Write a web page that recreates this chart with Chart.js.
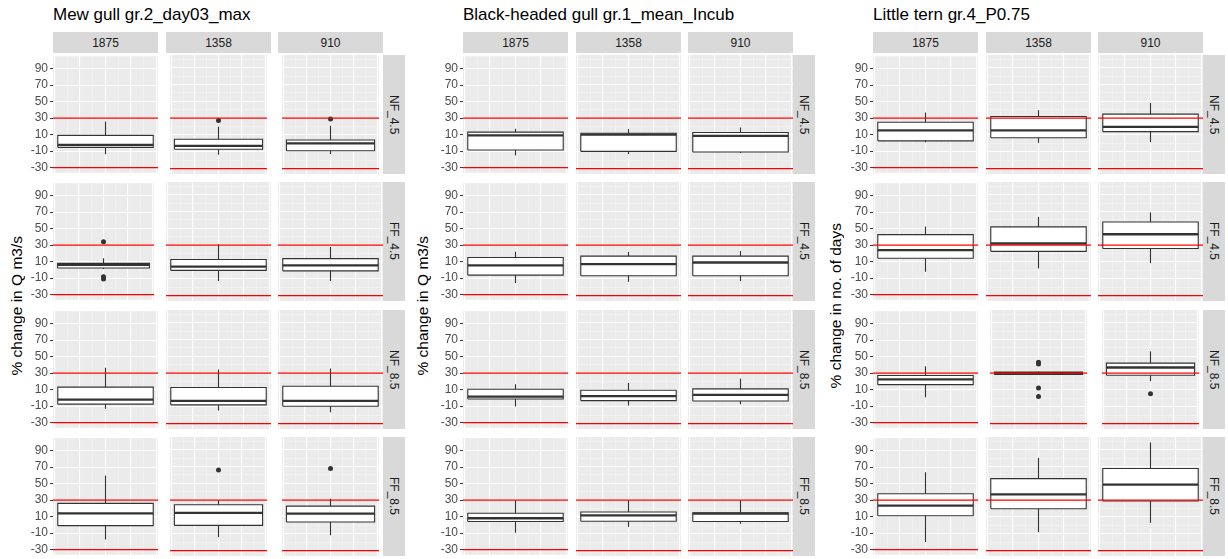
<!DOCTYPE html>
<html lang="en">
<head>
<meta charset="UTF-8">
<title>% change boxplots</title>
<script src="https://cdn.jsdelivr.net/npm/chart.js"></script>
<style>
  body { margin: 0; width: 1228px; height: 559px; background: #fff; position: relative; overflow: hidden;
         font-family: "Liberation Sans", Arial, sans-serif; }
  .title { position: absolute; top: 5px; font-size: 17px; line-height: 20px; color: #000; white-space: nowrap; }
  .strip-top { position: absolute; top: 32px; height: 21px; line-height: 22px; background: #D9D9D9;
               color: #1A1A1A; font-size: 12px; text-align: center; }
  .strip-right { position: absolute; width: 22px; background: #D9D9D9; color: #1A1A1A; font-size: 12px;
                 display: flex; align-items: center; justify-content: center; }
  .strip-right span { writing-mode: vertical-rl; }
  .ytitle { position: absolute; width: 20px; top: 55px; height: 501px; font-size: 15.5px; color: #000;
            display: flex; align-items: center; justify-content: center; }
  .ytitle span { writing-mode: vertical-rl; transform: rotate(180deg); white-space: nowrap; }
  canvas { position: absolute; }
</style>
</head>
<body>
<script>
const panelTitles = ['Mew gull gr.2_day03_max', 'Black-headed gull gr.1_mean_Incub', 'Little tern gr.4_P0.75'];
const yTitles = ['% change in Q m3/s', '% change in Q m3/s', '% change in no. of days'];
const flows = ['1875', '1358', '910'];
const scenarios = ['NF_4.5', 'FF_4.5', 'NF_8.5', 'FF_8.5'];
const yTicks = [-30, -20, -10, 0, 10, 20, 30, 40, 50, 60, 70, 80, 90, 100];
const yLabelled = [-30, -10, 10, 30, 50, 70, 90];
const xTicks = [-0.4, -0.3, -0.2, -0.1, 0, 0.1, 0.2, 0.3, 0.4];
const limitLines = [-30, 30];

// [low whisker, q1, median, q3, high whisker]; rows = scenarios, columns = flows
const mewStats = [
  [[-14, -5.5, -2.4, 9, 26], [-13.5, -7, -3, 5, 20], [-12.6, -8.7, 0, 4, 21]],
  [[1, 2.3, 6, 7.8, 14], [-12.7, 0, 4.6, 13, 31], [-12.7, -0.5, 6, 14, 28]],
  [[-13.3, -7.7, -2.2, 13, 36.4], [-14.5, -7.7, -3, 13, 34.4], [-16.5, -9.3, -3, 14.5, 35.6]],
  [[-17.7, -1, 14, 26, 60], [-14, 0, 15, 24.6, 30], [-11.7, 4, 14, 23, 31.8]]
];
const mewOutliers = [
  [[], [27.2], [29]],
  [[34, -8.3, -11], [], []],
  [[], [], []],
  [[], [66], [67.7]]
];

const blackStats = [
  [[-15.4, -8.7, 9, 13, 17], [-12.6, -9.5, 10.5, 12, 17], [-11.5, -10.3, 9, 13, 19]],
  [[-16, -6.4, 5.4, 15, 22], [-13.5, -6.4, 7.4, 17, 22], [-12.7, -6.4, 9.4, 17, 23]],
  [[-10.5, -1.4, 1.4, 10.5, 16.5], [-8.5, -2.6, 2.6, 9.7, 18.5], [-7, -3, 4.2, 11.3, 23.6]],
  [[-9.7, 4, 8, 14, 30], [-1.7, 5, 12, 16, 30], [2, 4.6, 14, 15, 30]]
];
const blackOutliers = [
  [[], [], []],
  [[], [], []],
  [[], [], []],
  [[], [], []]
];

const ternStats = [
  [[0.8, 2.4, 15, 25, 36.8], [0.8, 6.8, 15.6, 32, 39.6], [1.6, 14, 19.6, 34.8, 48]],
  [[-2.4, 14, 24, 42.8, 52.6], [2.3, 22.7, 32, 51.8, 63.6], [8.6, 26, 43, 57.6, 69]],
  [[0.6, 16, 22.5, 27.2, 38.4], [28, 28.5, 30, 31.5, 32], [20.5, 27.6, 36.8, 42, 56]],
  [[-21, 11, 23.4, 37.8, 64], [-8, 19.8, 37, 55.7, 80.4], [3, 29, 48.5, 67.7, 98.8]]
];
const ternOutliers = [
  [[], [], []],
  [[], [], []],
  [[], [43, 41, 12.5, 2.2], [5.4]],
  [[], [], []]
];

const statsByPanel = [mewStats, blackStats, ternStats];
const outliersByPanel = [mewOutliers, blackOutliers, ternOutliers];

// layout
const panelLeft = [53, 463, 873];
const yTitleX = [17, 423, 836];
const colPitch = 112.5, colWidth = 105;
const rowTop0 = 55, rowPitch = 127.3, rowHeight = 119;
const pad = 8, axisWidth = 45;
const yMin = -36.4, yMax = 105.2;
const xMin = -0.4125, xMax = 0.4125, boxHalf = 0.375;
const ink = '#333333';
const fontFamily = '"Liberation Sans", Arial, sans-serif';

const panelBg = {
  id: 'panelBg',
  beforeDraw(chart) {
    const { ctx, chartArea: a } = chart;
    ctx.save();
    ctx.fillStyle = '#EBEBEB';
    ctx.fillRect(a.left, a.top, a.width, a.height);
    ctx.restore();
  }
};

function addDiv(cls, css, text) {
  const d = document.createElement('div');
  d.className = cls;
  Object.assign(d.style, css);
  if (text !== undefined) d.textContent = text;
  document.body.appendChild(d);
  return d;
}

function addCanvas(left, top, w, h) {
  const c = document.createElement('canvas');
  c.width = w; c.height = h;
  c.style.left = left + 'px'; c.style.top = top + 'px';
  c.style.width = w + 'px'; c.style.height = h + 'px';
  document.body.appendChild(c);
  return c;
}

function boxChart(canvas, stats, outs, withAxis) {
  const [low, q1, med, q3, high] = stats;
  new Chart(canvas, {
    type: 'line',
    data: {
      datasets: [
        ...limitLines.map(v => ({
          data: [{ x: xMin, y: v }, { x: xMax, y: v }],
          borderColor: '#FF0000', borderWidth: 1.3, pointRadius: 0
        })),
        {
          data: outs.map(v => ({ x: 0, y: v })),
          showLine: false, pointRadius: 2.5, pointBackgroundColor: ink, pointBorderWidth: 0
        },
        {
          data: [{ x: -boxHalf, y: med }, { x: boxHalf, y: med }],
          borderColor: ink, borderWidth: 2.3, pointRadius: 0
        },
        {
          data: [{ x: -boxHalf, y: q1 }, { x: boxHalf, y: q1 }, { x: boxHalf, y: q3 },
                 { x: -boxHalf, y: q3 }, { x: -boxHalf, y: q1 }],
          borderColor: ink, borderWidth: 1.1, backgroundColor: '#FFFFFF', fill: 'shape', pointRadius: 0
        },
        {
          data: [{ x: 0, y: low }, { x: 0, y: high }],
          borderColor: ink, borderWidth: 1.1, pointRadius: 0
        }
      ]
    },
    options: {
      responsive: false,
      animation: false,
      layout: { padding: { top: pad, bottom: pad, left: 0, right: 0 } },
      plugins: { legend: { display: false }, tooltip: { enabled: false } },
      scales: {
        x: {
          type: 'linear', min: xMin, max: xMax,
          afterBuildTicks: s => { s.ticks = xTicks.map(v => ({ value: v })); },
          afterFit: s => { s.height = 0; },
          ticks: { display: false },
          border: { display: false },
          grid: {
            drawTicks: false,
            color: c => c.index % 2 === 0 ? '#FFFFFF' : '#F4F4F4',
            lineWidth: c => c.index % 2 === 0 ? 1.1 : 0.7
          }
        },
        y: {
          min: yMin, max: yMax,
          afterBuildTicks: s => { s.ticks = yTicks.map(v => ({ value: v })); },
          afterFit: s => { s.width = withAxis ? axisWidth : 0; },
          border: { display: false },
          grid: {
            drawTicks: withAxis,
            tickLength: 3,
            tickWidth: 1,
            tickColor: c => yLabelled.includes(c.tick.value) ? ink : 'rgba(0,0,0,0)',
            color: c => yLabelled.includes(c.tick.value) ? '#FFFFFF' : '#F4F4F4',
            lineWidth: c => yLabelled.includes(c.tick.value) ? 1.1 : 0.7
          },
          ticks: {
            display: withAxis, padding: 2, color: '#4D4D4D',
            font: { size: 12, family: fontFamily },
            callback: v => yLabelled.includes(v) ? String(v) : ''
          }
        }
      }
    },
    plugins: [panelBg]
  });
}

panelTitles.forEach((title, p) => {
  const x0 = panelLeft[p];
  addDiv('title', { left: x0 + 'px' }, title);
  const yt = addDiv('ytitle', { left: (yTitleX[p] - 10) + 'px' });
  const ys = document.createElement('span');
  ys.textContent = yTitles[p];
  yt.appendChild(ys);

  flows.forEach((f, c) => {
    const cx = Math.round(x0 + c * colPitch);
    addDiv('strip-top', { left: cx + 'px', width: colWidth + 'px' }, f);
  });

  scenarios.forEach((sc, r) => {
    const top = Math.round(rowTop0 + r * rowPitch);
    const rs = addDiv('strip-right', {
      left: Math.round(x0 + 2 * colPitch + colWidth) + 'px', top: top + 'px', height: rowHeight + 'px'
    });
    const sp = document.createElement('span');
    sp.textContent = sc;
    rs.appendChild(sp);

    flows.forEach((f, c) => {
      const cx = Math.round(x0 + c * colPitch);
      const withAxis = c === 0;
      const canvas = withAxis
        ? addCanvas(cx - axisWidth, top - pad, colWidth + axisWidth, rowHeight + 2 * pad)
        : addCanvas(cx, top - pad, colWidth, rowHeight + 2 * pad);
      boxChart(canvas, statsByPanel[p][r][c], outliersByPanel[p][r][c], withAxis);
    });
  });
});
</script>
</body>
</html>
